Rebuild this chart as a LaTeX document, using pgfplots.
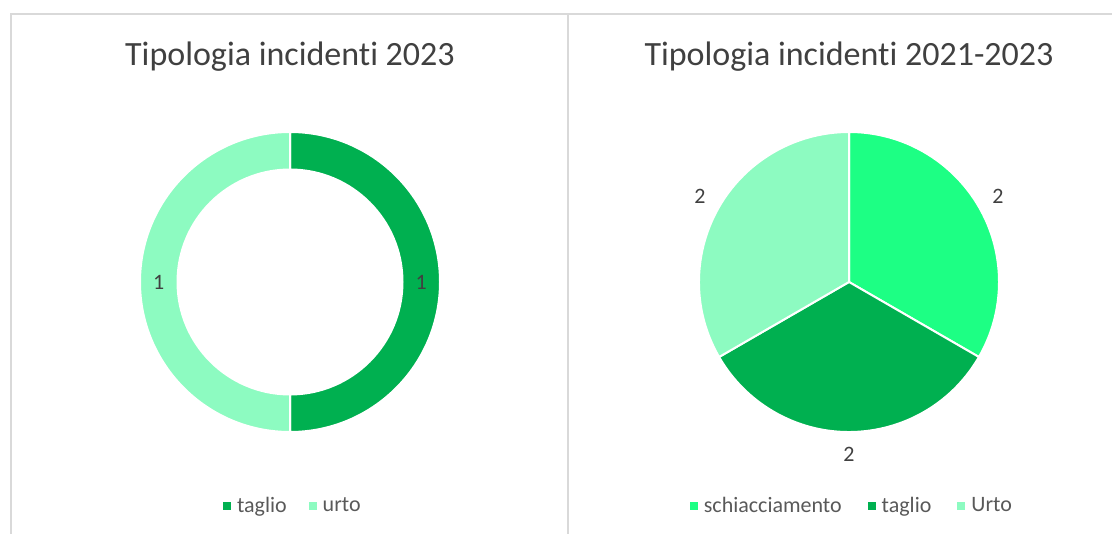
\documentclass[border=0pt]{standalone}
\usepackage{pgfplots}
\usepackage{pgfplotstable}
\pgfplotsset{compat=1.18}
\usepackage{fontspec}
\setmainfont[Ligatures=NoCommon]{Carlito}
\definecolor{ctaglio}{HTML}{00B050}
\definecolor{curto}{HTML}{8DFBC1}
\definecolor{cschiac}{HTML}{1DFF84}
\definecolor{ctext}{HTML}{595959}
\definecolor{ctitle}{HTML}{404040}
\definecolor{cborder}{HTML}{D9D9D9}

\pgfplotstableread{
tipo value
taglio 1
urto 1
}\tabA
\pgfplotstableread{
tipo value
schiacciamento 2
taglio 2
Urto 2
}\tabB

\pgfplotsset{
  piestyle/.style={
    anchor=center, x=75bp, y=75bp,
    xmin=-1, xmax=1, ymin=-1, ymax=1,
    hide axis, clip=false,
    title style={at={(axis description cs:0.5,1.213)}, anchor=center,
      font=\fontsize{17bp}{20bp}\selectfont, text=ctitle},
    legend columns=-1,
    legend style={at={(axis description cs:0.513,-0.247)}, anchor=center,
      draw=none, fill=none, text=ctext,
      font=\fontsize{11bp}{13bp}\selectfont,
      /tikz/every even column/.append style={column sep=9bp}},
    legend image code/.code={\fill[#1, draw=none] (0bp,-2bp) rectangle (4bp,2bp);
      \path[draw=none, fill=none] (0bp,0bp) (5bp,0bp);},
  }
}

\begin{document}
\begin{tikzpicture}
\path[use as bounding box] (0,0) rectangle (556bp,267bp);
\draw[cborder, line width=1bp] (5.25bp,-5bp) -- (5.25bp,260bp) -- (600bp,260bp);
\draw[cborder, line width=1bp] (284bp,-5bp) -- (284bp,260bp);

% angles for the 2023 doughnut
\pgfplotstablegetelem{0}{value}\of\tabA \pgfmathtruncatemacro\va{\pgfplotsretval}
\pgfplotstablegetelem{1}{value}\of\tabA \pgfmathtruncatemacro\vb{\pgfplotsretval}
\pgfmathsetmacro\totA{\va+\vb}
\pgfmathsetmacro\aA{90}
\pgfmathsetmacro\aB{\aA-360*\va/\totA}
\pgfmathsetmacro\aC{\aB-360*\vb/\totA}
\pgfmathsetmacro\mA{(\aA+\aB)/2}
\pgfmathsetmacro\mB{(\aB+\aC)/2}

% angles for the 2021-2023 pie
\pgfplotstablegetelem{0}{value}\of\tabB \pgfmathtruncatemacro\vc{\pgfplotsretval}
\pgfplotstablegetelem{1}{value}\of\tabB \pgfmathtruncatemacro\vd{\pgfplotsretval}
\pgfplotstablegetelem{2}{value}\of\tabB \pgfmathtruncatemacro\ve{\pgfplotsretval}
\pgfmathsetmacro\totB{\vc+\vd+\ve}
\pgfmathsetmacro\bA{90}
\pgfmathsetmacro\bB{\bA-360*\vc/\totB}
\pgfmathsetmacro\bC{\bB-360*\vd/\totB}
\pgfmathsetmacro\bD{\bC-360*\ve/\totB}
\pgfmathsetmacro\nA{(\bA+\bB)/2}
\pgfmathsetmacro\nB{(\bB+\bC)/2}
\pgfmathsetmacro\nC{(\bC+\bD)/2}

\begin{axis}[piestyle, at={(145bp,126bp)}, title={Tipologia incidenti 2023}]
\addlegendimage{fill=ctaglio}
\addlegendentry{taglio}
\addlegendimage{fill=curto}
\addlegendentry{urto}
\filldraw[fill=ctaglio, draw=white, line width=1bp] (axis cs:0,0) ++(\aA:75bp)
  arc[start angle=\aA, end angle=\aB, radius=75bp] -- ++({\aB+180}:18.75bp)
  arc[start angle=\aB, end angle=\aA, radius=56.25bp] -- cycle;
\filldraw[fill=curto, draw=white, line width=1bp] (axis cs:0,0) ++(\aB:75bp)
  arc[start angle=\aB, end angle=\aC, radius=75bp] -- ++({\aC+180}:18.75bp)
  arc[start angle=\aC, end angle=\aB, radius=56.25bp] -- cycle;
\path (axis cs:0,0) ++(\mA:65.6bp) node[text=ctitle, font=\fontsize{11bp}{13bp}\selectfont] {\va};
\path (axis cs:0,0) ++(\mB:65.6bp) node[text=ctitle, font=\fontsize{11bp}{13bp}\selectfont] {\vb};
\end{axis}

\begin{axis}[piestyle, at={(424.5bp,126bp)}, title={Tipologia incidenti 2021-2023},
  legend style={/tikz/every even column/.append style={column sep=11bp}}]
\addlegendimage{fill=cschiac}
\addlegendentry{schiacciamento}
\addlegendimage{fill=ctaglio}
\addlegendentry{taglio}
\addlegendimage{fill=curto}
\addlegendentry{Urto}
\filldraw[fill=cschiac, draw=white, line width=1bp] (axis cs:0,0) -- ++(\bA:75bp)
  arc[start angle=\bA, end angle=\bB, radius=75bp] -- cycle;
\filldraw[fill=ctaglio, draw=white, line width=1bp] (axis cs:0,0) -- ++(\bB:75bp)
  arc[start angle=\bB, end angle=\bC, radius=75bp] -- cycle;
\filldraw[fill=curto, draw=white, line width=1bp] (axis cs:0,0) -- ++(\bC:75bp)
  arc[start angle=\bC, end angle=\bD, radius=75bp] -- cycle;
\path (axis cs:0,0) ++(\nA:86bp) node[text=ctitle, font=\fontsize{11bp}{13bp}\selectfont] {\vc};
\path (axis cs:0,0) ++(\nB:86bp) node[text=ctitle, font=\fontsize{11bp}{13bp}\selectfont] {\vd};
\path (axis cs:0,0) ++(\nC:86bp) node[text=ctitle, font=\fontsize{11bp}{13bp}\selectfont] {\ve};
\end{axis}
\end{tikzpicture}
\end{document}
